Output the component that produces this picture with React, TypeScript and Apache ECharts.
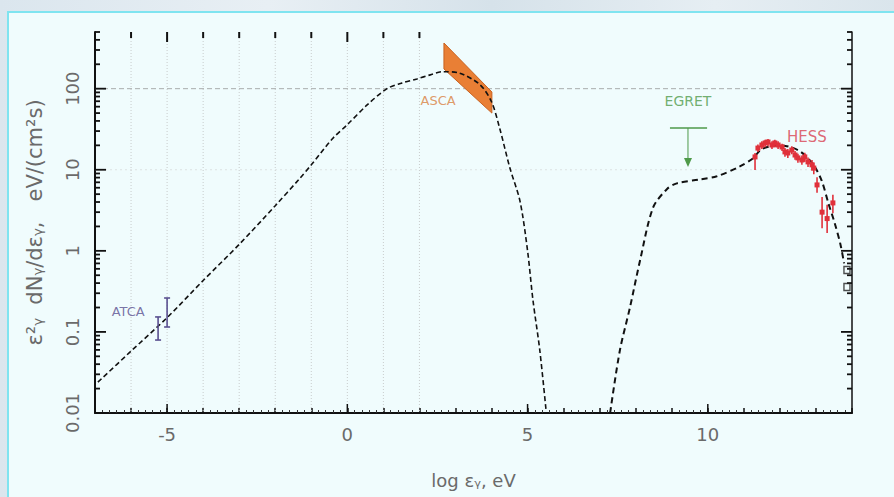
import React, { useEffect, useRef } from "react";
import * as echarts from "echarts";

// ---- axis / tick data ----
const xTickLabels = [-5, 0, 5, 10];
const gridX = [-6, -5, -4, -3, -2, -1, 0, 1, 2];
const yDecades = [0.01, 0.1, 1, 10, 100];
const yTickLabels = ["0.01", "0.1", "1", "10", "100"];
const minorMult = [2, 3, 4, 5, 6, 7, 8, 9];
const refLines = [10, 100];

// ---- model curves ----
const synX = [-6.92, -6, -5, -4, -3, -2, -1.31, -1, -0.4, 0, 0.55, 1.1, 1.5, 1.93, 2.3, 2.65, 3.12, 3.68, 4.0, 4.23, 4.51, 4.79, 5.0, 5.15, 5.34, 5.52];
const synY = [0.024, 0.058, 0.15, 0.43, 1.2, 3.6, 7.9, 11.5, 24.5, 36, 63, 100, 117, 132, 148, 162, 155, 112, 69, 32, 10.5, 4.1, 1.0, 0.245, 0.059, 0.01];
const icX = [7.29, 7.56, 7.84, 8.12, 8.48, 8.87, 9.14, 9.78, 10.25, 10.89, 11.25, 11.5, 12.0, 12.5, 12.9, 13.15, 13.35, 13.52, 13.68, 13.78];
const icY = [0.01, 0.059, 0.2, 0.76, 3.4, 5.8, 6.8, 7.6, 8.3, 11, 13.8, 18, 20, 17.5, 12, 7.5, 3.8, 2.2, 1.2, 0.7];

// ---- ASCA band ----
const ascaX = [2.68, 4.01];
const ascaLow = [175, 50];
const ascaHigh = [366, 91];

// ---- EGRET upper limit ----
const egretX = [9.45];
const egretLimit = [32.7];
const egretTip = [10.8];
const egretFrom = [8.95];
const egretTo = [9.98];

// ---- ATCA ----
const atcaX = [-5.25, -5.0];
const atcaY = [0.112, 0.171];
const atcaLo = [0.0794, 0.115];
const atcaHi = [0.153, 0.262];

// ---- HESS ----
const hessX = [11.31, 11.39, 11.5, 11.59, 11.67, 11.78, 11.86, 11.95, 12.06, 12.14, 12.22, 12.33, 12.42, 12.5, 12.61, 12.69, 12.78, 12.89, 12.94, 13.03, 13.17, 13.31, 13.47];
const hessY = [14.4, 18.5, 20.2, 21.4, 22.0, 20.2, 21.4, 20.2, 19.1, 16.6, 16.1, 17.5, 15.2, 14.0, 13.2, 14.4, 12.5, 11.5, 10.5, 6.5, 3.0, 2.5, 3.9];
const hessLo = [9.9, 16.5, 18.0, 19.0, 19.5, 18.0, 19.0, 18.0, 17.0, 14.5, 14.0, 15.5, 13.3, 12.2, 11.5, 12.5, 10.8, 9.8, 8.8, 5.2, 1.9, 1.66, 2.9];
const hessHi = [16.1, 20.5, 22.5, 23.5, 24.0, 22.5, 23.5, 22.5, 21.0, 18.5, 18.0, 19.5, 17.0, 15.8, 15.0, 16.2, 14.2, 13.2, 12.2, 8.1, 4.6, 3.7, 4.9];

// ---- misc marks at right edge ----
const edgeX = [13.86, 13.86];
const edgeY = [0.58, 0.358];

// ---- annotation labels ----
const labelNames = ["ASCA", "EGRET", "HESS", "ATCA"];
const labelX = [2.52, 9.45, 12.75, -6.08];
const labelY = [70.5, 71, 25.4, 0.18];

const Y_MIN = 0.01;
const Y_MAX = 500;
const X_MIN = -7;
const X_MAX = 14;

const labelColors = ["#d98040", "#4f9a4a", "#d84050", "#5a5090"];
const labelSizes = [13, 14, 15, 13];

export default function App() {
  const ref = useRef<HTMLDivElement>(null);

  useEffect(() => {
    if (!ref.current) return;
    const chart = echarts.init(ref.current, undefined, { renderer: "svg" });
    const txt = "#6a6a6a";
    const font = "DejaVu Sans";

    const logTickData: number[][] = [];
    yDecades.forEach((d) => {
      logTickData.push([X_MIN, d, 1]);
      minorMult.forEach((m) => {
        if (d * m <= Y_MAX) logTickData.push([X_MIN, d * m, 0]);
      });
    });

    const option: any = {
      animation: false,
      backgroundColor: "transparent",
      grid: { left: 95, right: 42, top: 32, bottom: 84, outerBoundsMode: "none", containLabel: false },
      xAxis: {
        type: "value",
        min: X_MIN,
        max: X_MAX,
        interval: 1,
        axisLine: { show: true, onZero: false, lineStyle: { color: "#111", width: 2 } },
        axisTick: { show: true, inside: true, length: 5, lineStyle: { color: "#111", width: 1.5 } },
        minorTick: { show: true, splitNumber: 5, length: 3, lineStyle: { color: "#333", width: 1 } },
        splitLine: { show: false },
        minorSplitLine: { show: false },
        axisLabel: {
          formatter: (v: number) => (xTickLabels.includes(Math.round(v * 1000) / 1000) ? String(v) : ""),
          fontSize: 18,
          color: txt,
          fontFamily: font,
          margin: 12,
        },
        name: "log εᵧ, eV",
        nameLocation: "middle",
        nameGap: 58,
        nameTextStyle: { fontSize: 18, color: txt, fontFamily: font },
      },
      yAxis: [
        {
          type: "log",
          logBase: 10,
          min: Y_MIN,
          max: Y_MAX,
          axisLine: { show: true, onZero: false, lineStyle: { color: "#111", width: 2 } },
          axisTick: { show: false },
          splitLine: { show: false },
          axisLabel: {
            rotate: 90,
            showMaxLabel: false,
            formatter: (v: number) => {
              const i = yDecades.findIndex((d) => Math.abs(Math.log10(v) - Math.log10(d)) < 1e-6);
              return i >= 0 ? yTickLabels[i] : "";
            },
            fontSize: 18,
            color: txt,
            fontFamily: font,
            margin: 14,
          },
          name: "ε²ᵧ  dNᵧ/dεᵧ,   eV/(cm²s)",
          nameLocation: "middle",
          nameGap: 50,
          nameTextStyle: { fontSize: 21, color: txt, fontFamily: font },
        },
        {
          type: "log",
          logBase: 10,
          min: Y_MIN,
          max: Y_MAX,
          position: "right",
          axisLine: { show: true, onZero: false, lineStyle: { color: "#111", width: 1.5 } },
          axisTick: { show: false },
          axisLabel: { show: false },
          splitLine: { show: false },
        },
      ],
      series: [
        // vertical dotted grid + top ticks
        {
          type: "custom",
          silent: true,
          data: gridX.map((x) => [x, Y_MIN]),
          encode: { x: 0, y: 1 },
          renderItem: (params: any, api: any) => {
            const cs = params.coordSys;
            const x = api.value(0);
            const p = api.coord([x, Y_MIN]);
            const len = x % 5 === 0 ? 10 : 6;
            return {
              type: "group",
              children: [
                {
                  type: "line",
                  shape: { x1: p[0], y1: cs.y, x2: p[0], y2: cs.y + cs.height },
                  style: { stroke: "#c8cccc", lineWidth: 1, lineDash: [1, 2] },
                },
                {
                  type: "line",
                  shape: { x1: p[0], y1: cs.y, x2: p[0], y2: cs.y + len },
                  style: { stroke: "#111", lineWidth: 2 },
                },
              ],
            };
          },
          z: 1,
        },
        // longer bottom ticks at labelled values
        {
          type: "custom",
          silent: true,
          data: xTickLabels.map((x) => [x, Y_MIN]),
          encode: { x: 0, y: 1 },
          renderItem: (params: any, api: any) => {
            const p = api.coord([api.value(0), Y_MIN]);
            return {
              type: "line",
              shape: { x1: p[0], y1: p[1], x2: p[0], y2: p[1] - 9 },
              style: { stroke: "#111", lineWidth: 1.5 },
            };
          },
        },
        // horizontal reference lines
        {
          type: "custom",
          silent: true,
          data: refLines.map((y) => [X_MIN, y]),
          encode: { x: 0, y: 1 },
          renderItem: (params: any, api: any) => {
            const cs = params.coordSys;
            const p = api.coord([X_MIN, api.value(1)]);
            const strong = params.dataIndex === 1;
            return {
              type: "line",
              shape: { x1: cs.x, y1: p[1], x2: cs.x + cs.width, y2: p[1] },
              style: strong
                ? { stroke: "#a8acac", lineWidth: 1, lineDash: [5, 3] }
                : { stroke: "#dde2e2", lineWidth: 1, lineDash: [2, 3] },
            };
          },
          z: 1,
        },
        // log ticks on left and right axes
        {
          type: "custom",
          silent: true,
          data: logTickData,
          encode: { x: 0, y: 1 },
          renderItem: (params: any, api: any) => {
            const cs = params.coordSys;
            const p = api.coord([X_MIN, api.value(1)]);
            const len = api.value(2) === 1 ? 11 : 5;
            return {
              type: "group",
              children: [
                { type: "line", shape: { x1: cs.x, y1: p[1], x2: cs.x + len, y2: p[1] }, style: { stroke: "#111", lineWidth: 1.8 } },
                { type: "line", shape: { x1: cs.x + cs.width - len, y1: p[1], x2: cs.x + cs.width, y2: p[1] }, style: { stroke: "#111", lineWidth: 1.8 } },
              ],
            };
          },
        },
        // ASCA band
        {
          type: "custom",
          silent: true,
          data: [[ascaX[0], ascaLow[0], ascaHigh[0], ascaX[1], ascaLow[1], ascaHigh[1]]],
          encode: { x: [0, 3], y: [1, 2, 4, 5] },
          renderItem: (params: any, api: any) => {
            const a = api.coord([api.value(0), api.value(2)]);
            const b = api.coord([api.value(3), api.value(5)]);
            const c = api.coord([api.value(3), api.value(4)]);
            const d = api.coord([api.value(0), api.value(1)]);
            return {
              type: "polygon",
              shape: { points: [a, b, c, d] },
              style: { fill: "#e97f35", stroke: "#c8611f", lineWidth: 1 },
            };
          },
          z: 2,
        },
        // model curves
        {
          type: "line",
          data: synX.map((x, i) => [x, synY[i]]),
          showSymbol: false,
          smooth: 0.3,
          lineStyle: { color: "#111", width: 1.6, type: [5, 3] },
          z: 3,
        },
        {
          type: "line",
          data: icX.map((x, i) => [x, icY[i]]),
          showSymbol: false,
          smooth: 0.3,
          lineStyle: { color: "#111", width: 2, type: [6, 4] },
          z: 3,
        },
        // ATCA error bars
        {
          type: "custom",
          data: atcaX.map((x, i) => [x, atcaY[i], atcaLo[i], atcaHi[i]]),
          encode: { x: 0, y: 1 },
          renderItem: (params: any, api: any) => {
            const x = api.value(0);
            const lo = api.coord([x, api.value(2)]);
            const hi = api.coord([x, api.value(3)]);
            const col = "#5a5090";
            return {
              type: "group",
              children: [
                { type: "line", shape: { x1: lo[0], y1: lo[1], x2: hi[0], y2: hi[1] }, style: { stroke: col, lineWidth: 1.6 } },
                { type: "line", shape: { x1: lo[0] - 3, y1: lo[1], x2: lo[0] + 3, y2: lo[1] }, style: { stroke: col, lineWidth: 1.6 } },
                { type: "line", shape: { x1: hi[0] - 3, y1: hi[1], x2: hi[0] + 3, y2: hi[1] }, style: { stroke: col, lineWidth: 1.6 } },
              ],
            };
          },
          z: 4,
        },
        // HESS points
        {
          type: "custom",
          data: hessX.map((x, i) => [x, hessY[i], hessLo[i], hessHi[i]]),
          encode: { x: 0, y: 1 },
          renderItem: (params: any, api: any) => {
            const x = api.value(0);
            const p = api.coord([x, api.value(1)]);
            const lo = api.coord([x, api.value(2)]);
            const hi = api.coord([x, api.value(3)]);
            const col = "#e0303a";
            return {
              type: "group",
              children: [
                { type: "line", shape: { x1: p[0], y1: lo[1], x2: p[0], y2: hi[1] }, style: { stroke: col, lineWidth: 1.6 } },
                { type: "rect", shape: { x: p[0] - 2.5, y: p[1] - 2.5, width: 5, height: 5 }, style: { fill: col } },
              ],
            };
          },
          z: 4,
        },
        // EGRET upper limit
        {
          type: "custom",
          data: egretX.map((x, i) => [x, egretLimit[i], egretTip[i], egretFrom[i], egretTo[i]]),
          encode: { x: 0, y: 1 },
          renderItem: (params: any, api: any) => {
            const x = api.value(0);
            const top = api.coord([x, api.value(1)]);
            const tip = api.coord([x, api.value(2)]);
            const l = api.coord([api.value(3), api.value(1)]);
            const r = api.coord([api.value(4), api.value(1)]);
            const col = "#4f9a4a";
            return {
              type: "group",
              children: [
                { type: "line", shape: { x1: l[0], y1: l[1], x2: r[0], y2: r[1] }, style: { stroke: col, lineWidth: 1.6 } },
                { type: "line", shape: { x1: top[0], y1: top[1], x2: tip[0], y2: tip[1] - 4 }, style: { stroke: col, lineWidth: 1 } },
                {
                  type: "polygon",
                  shape: { points: [[tip[0] - 4, tip[1] - 9], [tip[0] + 4, tip[1] - 9], [tip[0], tip[1]]] },
                  style: { fill: col },
                },
              ],
            };
          },
          z: 4,
        },
        // odd marks at right edge
        {
          type: "scatter",
          data: edgeX.map((x, i) => [x, edgeY[i]]),
          symbol: "rect",
          symbolSize: [6, 7],
          itemStyle: { color: "transparent", borderColor: "#222", borderWidth: 1.5 },
          z: 4,
        },
        // annotation labels
        {
          type: "scatter",
          silent: true,
          symbolSize: 1,
          itemStyle: { color: "transparent" },
          data: labelNames.map((n, i) => ({
            name: n,
            value: [labelX[i], labelY[i]],
            label: {
              show: true,
              position: "inside",
              formatter: "{b}",
              color: labelColors[i],
              fontSize: labelSizes[i],
              fontFamily: font,
            },
          })),
          z: 5,
        },
      ],
    };

    chart.setOption(option);
    return () => chart.dispose();
  }, []);

  return (
    <div
      style={{
        position: "fixed",
        left: 0,
        top: 0,
        width: 894,
        height: 497,
        overflow: "hidden",
        background: "linear-gradient(90deg, #dbe6ee 0%, #e8eff4 30%, #d6e2ea 55%, #e6eef3 80%, #dae5ec 100%)",
      }}
    >
      <div
        style={{
          position: "absolute",
          left: 7,
          top: 11,
          width: 900,
          height: 500,
          borderLeft: "2px solid #7fe4f0",
          borderTop: "2px solid #7fe4f0",
          background: "#f0fcfd",
        }}
      />
      <div ref={ref} style={{ position: "absolute", left: 0, top: 0, width: 894, height: 497 }} />
    </div>
  );
}
